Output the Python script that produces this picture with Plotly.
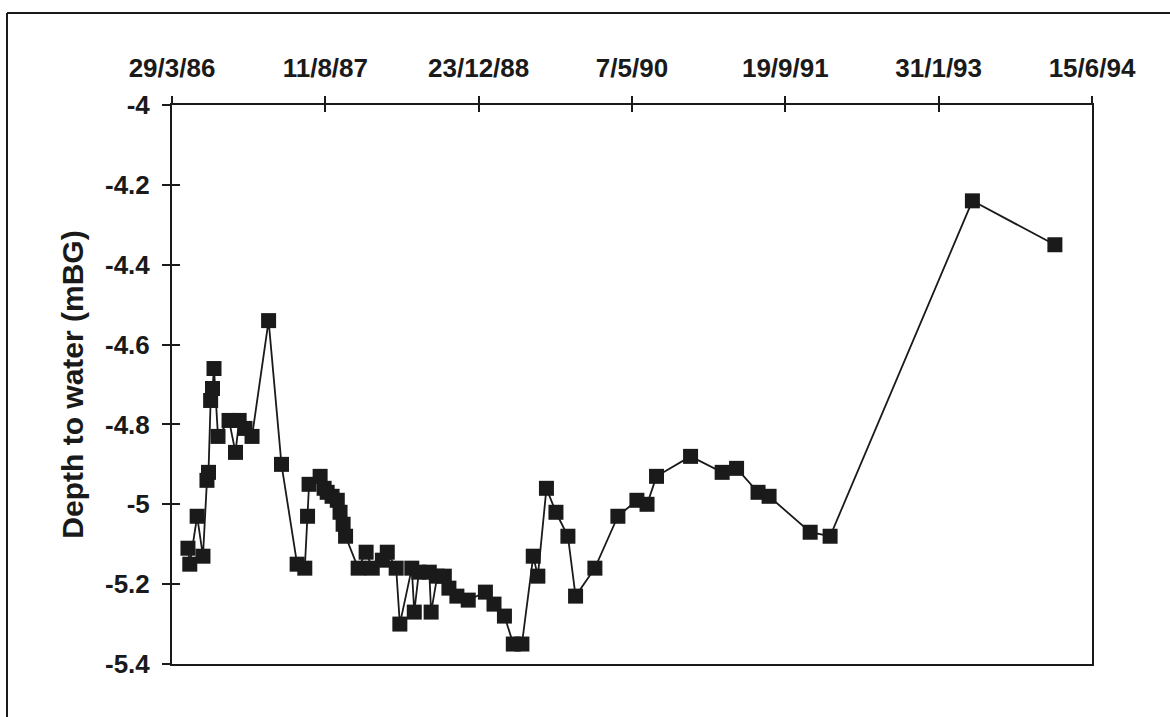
import plotly.graph_objects as go

# Excel date serial numbers (31500 = 29/3/86)
date_serial = [31552, 31558, 31582, 31601, 31614, 31619, 31626, 31632, 31637, 31650,
               31686, 31707, 31719, 31738, 31761, 31815, 31857, 31908, 31933, 31942,
               31947, 31983, 31996, 32006, 32022, 32039, 32048, 32058, 32066, 32107,
               32133, 32153, 32186, 32202, 32231, 32243, 32282, 32290, 32305, 32339,
               32345, 32365, 32388, 32403, 32429, 32466, 32522, 32550, 32584, 32613,
               32641, 32678, 32693, 32721, 32752, 32791, 32816, 32879, 32954, 33016,
               33049, 33080, 33191, 33294, 33341, 33411, 33447, 33581, 33646, 34110,
               34379]
depth = [-5.11, -5.15, -5.03, -5.13, -4.94, -4.92, -4.74, -4.71, -4.66, -4.83,
         -4.79, -4.87, -4.79, -4.81, -4.83, -4.54, -4.90, -5.15, -5.16, -5.03,
         -4.95, -4.93, -4.96, -4.97, -4.98, -4.99, -5.02, -5.05, -5.08, -5.16,
         -5.12, -5.16, -5.14, -5.12, -5.16, -5.30, -5.16, -5.27, -5.17, -5.17,
         -5.27, -5.18, -5.18, -5.21, -5.23, -5.24, -5.22, -5.25, -5.28, -5.35,
         -5.35, -5.13, -5.18, -4.96, -5.02, -5.08, -5.23, -5.16, -5.03, -4.99,
         -5.00, -4.93, -4.88, -4.92, -4.91, -4.97, -4.98, -5.07, -5.08, -4.24,
         -4.35]

x_tickvals = [31500, 32000, 32500, 33000, 33500, 34000, 34500]
x_ticktext = ["29/3/86", "11/8/87", "23/12/88", "7/5/90", "19/9/91", "31/1/93", "15/6/94"]
y_tickvals = [-4, -4.2, -4.4, -4.6, -4.8, -5, -5.2, -5.4]
y_ticktext = ["-4", "-4.2", "-4.4", "-4.6", "-4.8", "-5", "-5.2", "-5.4"]
y_title = "Depth to water (mBG)"

INK = "#1a1a1a"
FONT = dict(family="Liberation Sans, Arial, sans-serif", size=26, color=INK, weight="bold")

fig = go.Figure()
fig.add_trace(go.Scatter(
    x=date_serial, y=depth, mode="lines+markers",
    line=dict(color=INK, width=1.8),
    marker=dict(symbol="square", size=15, color=INK),
    showlegend=False, hoverinfo="x+y"))
# invisible copy on overlay axes (used only for the inner half of the cross ticks)
fig.add_trace(go.Scatter(
    x=date_serial, y=depth, mode="markers", marker=dict(opacity=0),
    xaxis="x2", yaxis="y2", showlegend=False, hoverinfo="skip"))

L, R, T, B = 172, 78, 105, 53
W, H = 1170, 717
pw, ph = W - L - R, H - T - B

def px(x):
    return (x - L) / pw

def py(y):
    return (H - B - y) / ph

fig.update_layout(
    width=W, height=H,
    margin=dict(l=L, r=R, t=T, b=B, pad=0),
    paper_bgcolor="white", plot_bgcolor="white",
    font=FONT,
    xaxis=dict(range=[31500, 34500], side="top", tickmode="array",
               tickvals=x_tickvals, ticktext=x_ticktext,
               ticks="outside", ticklen=7, tickwidth=1.5, tickcolor=INK,
               showline=True, linewidth=2, linecolor=INK, mirror=True,
               showgrid=False, zeroline=False, ticklabelstandoff=9,
               tickfont=FONT),
    yaxis=dict(range=[-5.4, -4], tickmode="array",
               tickvals=y_tickvals, ticktext=y_ticktext,
               ticks="outside", ticklen=8, tickwidth=1.5, tickcolor=INK,
               showline=True, linewidth=2, linecolor=INK, mirror=True,
               showgrid=False, zeroline=False, ticklabelstandoff=7,
               tickfont=FONT,
               title=dict(text=y_title, font=dict(family=FONT["family"], size=30,
                                                   color=INK, weight="bold"),
                          standoff=12)),
    xaxis2=dict(range=[31500, 34500], overlaying="x", matches="x", side="top",
                tickmode="array", tickvals=x_tickvals, ticks="inside", ticklen=7,
                tickwidth=1.5, tickcolor=INK, showticklabels=False,
                showgrid=False, zeroline=False, showline=False),
    yaxis2=dict(range=[-5.4, -4], overlaying="y", matches="y", side="left",
                tickmode="array", tickvals=y_tickvals, ticks="inside", ticklen=8,
                tickwidth=1.5, tickcolor=INK, showticklabels=False,
                showgrid=False, zeroline=False, showline=False),
    shapes=[
        dict(type="line", xref="paper", yref="paper", x0=px(7), x1=px(1180),
             y0=py(13), y1=py(13), line=dict(color=INK, width=2)),
        dict(type="line", xref="paper", yref="paper", x0=px(7), x1=px(7),
             y0=py(13), y1=py(730), line=dict(color=INK, width=2)),
    ],
)

fig.write_html("out.html", config={"displayModeBar": False},
               post_script="document.body.style.margin='0';")
